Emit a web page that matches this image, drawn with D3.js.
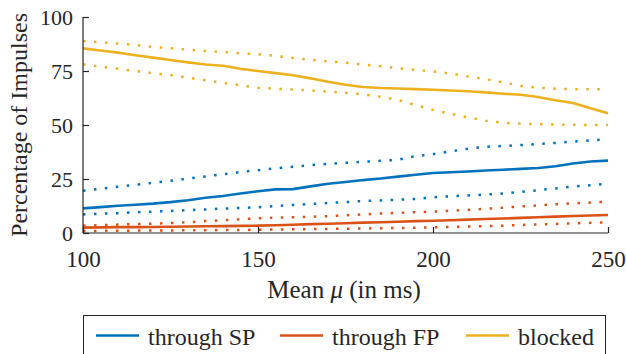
<!DOCTYPE html>
<html>
<head>
<meta charset="utf-8">
<script src="https://cdn.jsdelivr.net/npm/d3@7"></script>
<style>
  html, body { margin: 0; padding: 0; background: #fff; }
  svg { display: block; }
  text { font-family: "Liberation Serif", "Times New Roman", serif; fill: #262626; }
</style>
</head>
<body>
<svg id="chart" width="626" height="354"></svg>
<script>
// ---- data ----
const mu = [100,105,110,115,120,125,130,135,140,145,150,155,160,165,170,175,180,185,190,195,200,205,210,215,220,225,230,235,240,245,250];

const spMean  = [11.4,12.0,12.6,13.1,13.6,14.3,15.2,16.3,17.1,18.3,19.3,20.2,20.3,21.6,22.8,23.6,24.5,25.2,26.1,27.0,27.8,28.1,28.5,28.9,29.3,29.7,30.1,30.9,32.2,33.1,33.5];
const spUpper = [19.6,20.5,21.4,22.3,23.2,24.2,25.2,26.2,27.2,28.2,29.1,29.9,30.7,31.4,32.0,32.5,33.0,33.4,33.9,35.6,36.5,37.8,39.0,39.9,40.3,40.7,41.2,41.7,42.3,42.9,43.4];
const spLower = [8.6,8.9,9.2,9.6,9.9,10.2,10.6,10.9,11.3,11.6,11.9,12.5,13.0,13.4,13.9,14.3,14.8,15.1,15.4,15.8,16.5,17.0,17.4,17.8,18.3,19.0,19.8,20.6,21.5,22.1,22.8];

const fpMean  = [2.5,2.6,2.7,2.7,2.8,2.9,3.0,3.1,3.2,3.3,3.4,3.6,3.8,4.1,4.3,4.5,4.8,5.0,5.2,5.5,5.7,5.9,6.2,6.5,6.7,7.0,7.3,7.6,7.9,8.1,8.3];
const fpUpper = [3.4,3.6,3.9,4.1,4.3,4.6,5.0,5.5,5.9,6.4,6.8,7.1,7.3,7.5,7.8,8.2,8.6,9.0,9.3,9.6,9.9,10.3,10.7,11.2,11.7,12.3,12.8,13.3,13.7,14.1,14.5];
const fpLower = [0.9,1.0,1.05,1.1,1.15,1.2,1.25,1.3,1.35,1.4,1.5,1.6,1.7,1.8,1.9,2.0,2.1,2.2,2.3,2.4,2.6,2.8,3.0,3.2,3.4,3.7,4.0,4.2,4.5,4.7,4.9];

const blMean  = [85.5,84.5,83.5,82.3,81.2,80.1,79.0,78.0,77.4,76.0,75.0,74.0,73.0,71.6,70.0,68.6,67.6,67.1,66.9,66.6,66.3,66.0,65.6,65.1,64.5,64.0,63.0,61.5,60.2,57.8,55.4];
const blUpper = [88.9,88.3,87.7,87.0,86.2,85.5,84.9,84.3,83.8,83.2,82.8,82.0,81.0,80.2,79.5,78.8,78.0,77.2,76.3,75.5,74.8,73.8,72.5,71.2,69.8,68.1,67.3,66.8,66.6,66.5,66.5];
const blLower = [78.1,77.0,76.0,75.0,74.0,73.1,71.9,70.7,69.5,68.4,67.2,66.8,66.4,66.0,65.5,64.9,64.2,63.1,61.6,59.2,57.0,55.2,53.5,52.0,51.0,50.6,50.4,50.2,50.1,50.0,50.0];

const seriesNames = ["through SP", "through FP", "blocked"];
const seriesColors = ["#0072BD", "#D95319", "#EDB120"];
const xTicks = [100, 150, 200, 250];
const yTicks = [0, 25, 50, 75, 100];

// ---- chart ----
(function () {
const svg = d3.select("#chart");
const mLeft = 83, mRight = 608, mTop = 17, mBottom = 233;
const x = d3.scaleLinear().domain([100, 250]).range([mLeft, mRight]);
const y = d3.scaleLinear().domain([0, 100]).range([mBottom, mTop]);

const groups = [
  { mean: spMean, up: spUpper, lo: spLower, color: seriesColors[0] },
  { mean: fpMean, up: fpUpper, lo: fpLower, color: seriesColors[1] },
  { mean: blMean, up: blUpper, lo: blLower, color: seriesColors[2] }
];

svg.append("defs").append("clipPath").attr("id", "clip")
  .append("rect").attr("x", mLeft).attr("y", mTop - 5).attr("width", mRight - mLeft + 2).attr("height", mBottom - mTop + 5);

const plot = svg.append("g").attr("clip-path", "url(#clip)");
const line = vals => d3.line().x((d, i) => x(mu[i])).y(d => y(d))(vals);

groups.forEach(g => {
  [g.up, g.lo].forEach(arr => {
    plot.append("path").attr("d", line(arr))
      .attr("fill", "none").attr("stroke", g.color)
      .attr("stroke-width", 2.5).attr("stroke-dasharray", "2.5 8.5");
  });
});
groups.forEach(g => {
  plot.append("path").attr("d", line(g.mean))
    .attr("fill", "none").attr("stroke", g.color)
    .attr("stroke-width", 2.6).attr("stroke-linejoin", "round");
});

// axes
const axisColor = "#262626";
const xAxis = svg.append("g").attr("transform", `translate(0,${mBottom})`)
  .call(d3.axisBottom(x).tickValues(xTicks).tickSize(-6).tickPadding(18).tickFormat(d3.format("d")));
const yAxis = svg.append("g").attr("transform", `translate(${mLeft},0)`)
  .call(d3.axisLeft(y).tickValues(yTicks).tickSize(-6).tickPadding(10).tickFormat(d3.format("d")));

[xAxis, yAxis].forEach(a => {
  a.select(".domain").attr("stroke", axisColor).attr("stroke-width", 1.2);
  a.selectAll(".tick line").attr("stroke", axisColor).attr("stroke-width", 1.2);
  a.selectAll(".tick text").attr("fill", axisColor)
    .style("font-family", "'Liberation Serif', serif");
});
yAxis.select(".domain").attr("d", `M0,${mTop}V${mBottom}`);
xAxis.select(".domain").attr("d", `M${mLeft},0H${mRight}`);
xAxis.selectAll(".tick text").style("font-size", "23px").attr("dy", "0.71em");
yAxis.selectAll(".tick text").style("font-size", "22px").attr("dy", "0.34em");

// axis labels
const xl = svg.append("text").attr("x", 344).attr("y", 298)
  .attr("text-anchor", "middle").style("font-size", "25px");
xl.append("tspan").text("Mean ");
xl.append("tspan").style("font-style", "italic").text("μ");
xl.append("tspan").text(" (in ms)");

svg.append("text").attr("transform", "translate(27,125) rotate(-90)")
  .attr("text-anchor", "middle").style("font-size", "24px").text("Percentage of Impulses");

// legend
svg.append("rect").attr("x", 83.5).attr("y", 315.5).attr("width", 522).attr("height", 50)
  .attr("fill", "#fff").attr("stroke", axisColor).attr("stroke-width", 1);
const legX = [96, 280, 466];
seriesNames.forEach((n, i) => {
  svg.append("line").attr("x1", legX[i]).attr("x2", legX[i] + 43)
    .attr("y1", 335.5).attr("y2", 335.5)
    .attr("stroke", seriesColors[i]).attr("stroke-width", 2.6);
  svg.append("text").attr("x", legX[i] + 52).attr("y", 345)
    .style("font-size", "24px").text(n);
});
})();
</script>
</body>
</html>
